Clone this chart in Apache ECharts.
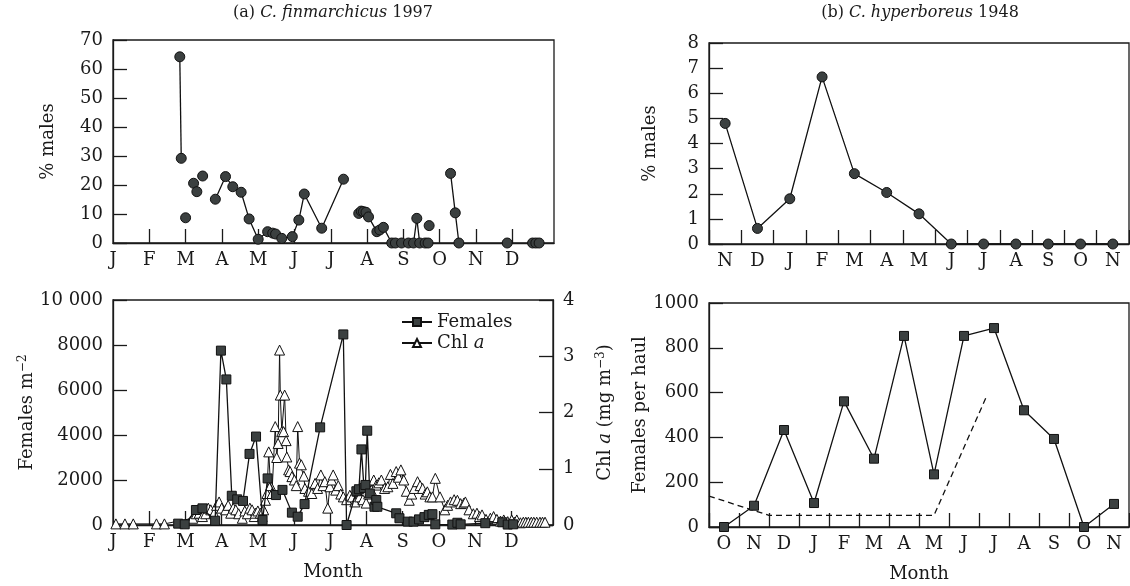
<!DOCTYPE html>
<html><head><meta charset="utf-8">
<script src="https://cdn.jsdelivr.net/npm/echarts@6/dist/echarts.min.js"></script>
<style>html,body{margin:0;padding:0;background:#fff}#c{width:1130px;height:586px}</style>
</head><body><div id="c"></div>
<script>
// ---- data ----
const monthLetters = ['J','F','M','A','M','J','J','A','S','O','N','D'];
// (a) C. finmarchicus 1997 — % males; x = months since 1 Jan; each inner list is a connected run
const malesFinSegments = [
  [[1.84,64.2],[1.88,29.2]],
  [[2.0,8.7]],
  [[2.22,20.6],[2.31,17.7]],
  [[2.47,23.1]],
  [[2.82,15.1],[3.10,22.9],[3.30,19.4],[3.53,17.5],[3.75,8.3],[4.0,1.3],[4.26,3.9],[4.40,3.4],[4.48,3.1],[4.65,1.6],[4.94,2.2],[5.12,7.9],[5.27,16.9],[5.75,5.1],[6.35,22.0]],
  [[6.77,10.2],[6.84,11.0],[6.90,10.8],[6.97,10.6],[7.04,9.0],[7.27,3.9],[7.35,4.5],[7.45,5.4],[7.68,0],[7.78,0],[7.95,0],[8.14,0],[8.28,0],[8.37,8.5],[8.45,0],[8.60,0],[8.68,0]],
  [[8.71,6.0]],
  [[9.30,24.0],[9.43,10.4],[9.53,0]],
  [[10.86,0]],
  [[11.56,0],[11.65,0],[11.74,0]]
];
// Females m^-2
const femalesFin = [[1.80,60],[1.98,30],[2.29,667],[2.47,740],[2.82,190],[2.98,7750],[3.13,6470],[3.28,1300],[3.43,1140],[3.59,1070],[3.77,3160],[3.95,3930],[4.13,220],[4.27,2070],[4.50,1330],[4.68,1560],[4.94,550],[5.10,370],[5.29,930],[5.72,4340],[6.36,8470],[6.45,0],[6.72,1500],[6.79,1590],[6.86,3360],[6.93,1650],[6.97,1780],[7.02,4190],[7.09,1400],[7.22,810],[7.27,1110],[7.30,810],[7.82,520],[7.91,300],[8.14,150],[8.30,150],[8.45,250],[8.60,350],[8.72,450],[8.82,480],[8.90,30],[9.37,20],[9.51,100],[9.60,30],[10.28,80],[10.75,120],[10.90,20],[11.05,30]];
// Chl a (mg m^-3)
const chlFin = [[0.08,0.02],[0.33,0.02],[0.56,0.02],[1.2,0.02],[1.42,0.02],
  [2.20,0.12],[2.30,0.2],[2.38,0.21],[2.47,0.15],[2.56,0.2],[2.63,0.3],[2.70,0.27],[2.79,0.21],[2.86,0.35],[2.93,0.41],[3.0,0.3],[3.11,0.27],[3.18,0.35],[3.25,0.21],[3.32,0.3],[3.39,0.27],[3.47,0.2],[3.57,0.12],[3.64,0.25],[3.71,0.2],[3.78,0.3],[3.84,0.27],[3.9,0.15],[3.93,0.21],[4.0,0.25],[4.07,0.21],[4.12,0.15],[4.16,0.27],[4.21,0.44],[4.25,0.56],[4.30,1.30],[4.35,0.7],[4.39,0.56],[4.48,1.75],[4.52,1.2],[4.56,1.45],[4.60,3.11],[4.62,2.31],[4.66,1.66],[4.71,1.66],[4.74,2.31],[4.78,1.5],[4.80,1.21],[4.85,0.98],[4.89,0.95],[4.94,0.86],[5.01,0.8],[5.06,0.7],[5.10,1.75],[5.15,1.1],[5.2,1.07],[5.27,0.87],[5.30,0.65],[5.4,0.6],[5.49,0.56],[5.58,0.74],[5.65,0.65],[5.74,0.89],[5.80,0.7],[5.85,0.77],[5.93,0.3],[5.99,0.68],[6.04,0.8],[6.08,0.89],[6.15,0.62],[6.22,0.7],[6.29,0.55],[6.36,0.5],[6.45,0.45],[6.54,0.53],[6.61,0.5],[6.68,0.41],[6.75,0.6],[6.81,0.5],[6.9,0.45],[6.99,0.39],[7.06,0.55],[7.13,0.62],[7.2,0.8],[7.27,0.71],[7.34,0.75],[7.41,0.8],[7.5,0.65],[7.59,0.68],[7.66,0.9],[7.73,0.74],[7.82,0.95],[7.88,0.85],[7.95,0.98],[8.03,0.8],[8.1,0.6],[8.18,0.44],[8.25,0.55],[8.32,0.65],[8.41,0.77],[8.48,0.7],[8.55,0.65],[8.62,0.55],[8.68,0.59],[8.75,0.5],[8.82,0.5],[8.9,0.83],[9.03,0.5],[9.16,0.27],[9.24,0.35],[9.32,0.41],[9.42,0.45],[9.51,0.44],[9.6,0.38],[9.69,0.39],[9.73,0.41],[9.83,0.27],[9.95,0.2],[10.05,0.21],[10.12,0.15],[10.19,0.18],[10.3,0.1],[10.42,0.12],[10.51,0.15],[10.6,0.1],[10.7,0.07],[10.79,0.09],[10.9,0.06],[11.01,0.09],[11.08,0.05],[11.15,0.09],[11.25,0.04],[11.33,0.05],[11.4,0.05],[11.47,0.05],[11.55,0.05],[11.62,0.05],[11.7,0.05],[11.79,0.05],[11.86,0.05],[11.93,0.05]];
// (b) C. hyperboreus 1948
const hypMonths = ['N','D','J','F','M','A','M','J','J','A','S','O','N'];
const malesHyp = [4.8,0.62,1.8,6.65,2.8,2.05,1.2,0,0,0,0,0,0];
const haulMonths = ['O','N','D','J','F','M','A','M','J','J','A','S','O','N'];
const femalesHaul = [0,95,433,107,561,305,853,235,853,888,521,393,0,103];
// dashed line: x in month-slot units (0 = first O)
const dashedHaul = [[-0.5,138],[1.5,52],[7,52],[8.75,583]];

// ---- styling ----
const F = 'DejaVu Serif';
const ink = '#1a1a1a';
const xTickColor = ink;
const fill = '#3b4040';
function lab(extra) { return Object.assign({fontFamily: F, fontSize: 18, color: ink}, extra || {}); }
function tickIn(extra, color) { return Object.assign({show: true, inside: true, length: 14, lineStyle: {color: color || ink, width: 1.3}}, extra || {}); }
function axLine() { return {show: true, onZero: false, lineStyle: {color: ink, width: 1.3}}; }
function gridBase(o) { return Object.assign({show: true, borderColor: ink, borderWidth: 1.3, backgroundColor: 'transparent'}, o); }
function nameStyle(extra) { return Object.assign({fontFamily: F, fontSize: 18, color: ink}, extra || {}); }

function monthAxis(gi, extra) {
  return Object.assign({
    type: 'value', gridIndex: gi, min: 0, max: 12.15,
    axisLine: axLine(),
    axisTick: tickIn({customValues: [1,2,3,4,5,6,7,8,9,10,11]}, xTickColor),
    axisLabel: lab({margin: 8, customValues: [0,1,2,3,4,5,6,7,8,9,10,11],
      formatter: v => monthLetters[Math.round(v)]}),
    splitLine: {show: false}
  }, extra || {});
}
function valAxis(gi, min, max, interval, extra) {
  return Object.assign({
    type: 'value', gridIndex: gi, min, max, interval,
    axisLine: axLine(),
    axisTick: tickIn(),
    axisLabel: lab({margin: 10, formatter: v => String(v)}),
    splitLine: {show: false}
  }, extra || {});
}
function catAxis(gi, cats, extra) {
  return Object.assign({
    type: 'category', gridIndex: gi, data: cats, boundaryGap: true,
    axisLine: axLine(),
    axisTick: tickIn({interval: 0}, xTickColor),
    axisLabel: lab({margin: 8, interval: 0}),
    splitLine: {show: false}
  }, extra || {});
}

const lineSt = () => ({color: '#111', width: 1.3});
const darkItem = () => ({color: fill, borderColor: '#111', borderWidth: 1});

const series = [];
malesFinSegments.forEach(seg => {
  series.push({type: 'line', xAxisIndex: 0, yAxisIndex: 0, data: seg,
    symbol: 'circle', symbolSize: 10, showAllSymbol: true,
    itemStyle: darkItem(), lineStyle: lineSt(), z: 3});
});
series.push({name: 'Females', type: 'line', xAxisIndex: 1, yAxisIndex: 1, data: femalesFin,
  symbol: 'rect', symbolSize: 9, showAllSymbol: true,
  itemStyle: darkItem(), lineStyle: lineSt(), z: 4});
series.push({name: 'Chl a', type: 'line', xAxisIndex: 1, yAxisIndex: 2, data: chlFin,
  symbol: 'triangle', symbolSize: 10, showAllSymbol: true,
  itemStyle: {color: '#fff', borderColor: '#111', borderWidth: 1}, lineStyle: {color: '#111', width: 1}, z: 3});
series.push({type: 'line', xAxisIndex: 2, yAxisIndex: 3, data: malesHyp,
  symbol: 'circle', symbolSize: 10, showAllSymbol: true,
  itemStyle: darkItem(), lineStyle: lineSt(), z: 3});
series.push({type: 'line', xAxisIndex: 3, yAxisIndex: 4, data: femalesHaul,
  symbol: 'rect', symbolSize: 9, showAllSymbol: true,
  itemStyle: darkItem(), lineStyle: lineSt(), z: 3});
series.push({type: 'line', xAxisIndex: 4, yAxisIndex: 4, data: dashedHaul,
  symbol: 'none', lineStyle: {color: '#111', width: 1.3, type: [6, 4]}, z: 2});

const option = {
  animation: false,
  backgroundColor: '#fff',
  textStyle: {fontFamily: F},
  graphic: [
    {type: 'text', x: 333, y: 5, style: {text: '(a) {i|C. finmarchicus} 1997', align: 'center',
      fontFamily: F, fontSize: 16, fill: ink, rich: {i: {fontStyle: 'italic', fontFamily: F, fontSize: 16, fill: ink}}}},
    {type: 'text', x: 920, y: 5, style: {text: '(b) {i|C. hyperboreus} 1948', align: 'center',
      fontFamily: F, fontSize: 16, fill: ink, rich: {i: {fontStyle: 'italic', fontFamily: F, fontSize: 16, fill: ink}}}}
  ],
  legend: {
    data: ['Females', 'Chl a'], orient: 'vertical', left: 396, top: 308,
    itemWidth: 30, itemHeight: 10, itemGap: 3,
    formatter: n => n === 'Chl a' ? 'Chl {i|a}' : n,
    textStyle: {fontFamily: F, fontSize: 18, color: ink,
      rich: {i: {fontStyle: 'italic', fontFamily: F, fontSize: 18, color: ink}}}
  },
  grid: [
    gridBase({left: 113, top: 40, width: 441, height: 203}),
    gridBase({left: 113, top: 300, width: 440, height: 225}),
    gridBase({left: 709, top: 43, width: 420, height: 201}),
    gridBase({left: 709, top: 303, width: 420, height: 224})
  ],
  xAxis: [
    monthAxis(0),
    monthAxis(1, {name: 'Month', nameLocation: 'middle', nameGap: 38, nameTextStyle: nameStyle()}),
    catAxis(2, hypMonths),
    catAxis(3, haulMonths, {name: 'Month', nameLocation: 'middle', nameGap: 38, nameTextStyle: nameStyle()}),
    {type: 'value', gridIndex: 3, min: -0.5, max: 13.5, show: false}
  ],
  yAxis: [
    valAxis(0, 0, 70, 10, {name: '% males', nameLocation: 'middle', nameGap: 56, nameTextStyle: nameStyle()}),
    valAxis(1, 0, 10000, 2000, {name: 'Females m{s|−2}', nameLocation: 'middle', nameGap: 74,
      nameTextStyle: nameStyle({rich: {s: {fontFamily: F, fontSize: 12, color: ink, padding: [0,0,8,0]}}}),
      axisLabel: lab({margin: 10, formatter: v => v === 10000 ? '10 000' : String(v)})}),
    valAxis(1, 0, 4, 1, {position: 'right', name: 'Chl {i|a} (mg m{s|−3})', nameLocation: 'middle', nameGap: 42,
      nameTextStyle: nameStyle({rich: {i: {fontStyle: 'italic', fontFamily: F, fontSize: 18, color: ink},
        s: {fontFamily: F, fontSize: 12, color: ink, padding: [0,0,8,0]}}})}),
    valAxis(2, 0, 8, 1, {name: '% males', nameLocation: 'middle', nameGap: 50, nameTextStyle: nameStyle()}),
    valAxis(3, 0, 1000, 200, {name: 'Females per haul', nameLocation: 'middle', nameGap: 54, nameTextStyle: nameStyle()})
  ],
  series
};
const chart = echarts.init(document.getElementById('c'), null, {renderer: 'canvas'});
chart.setOption(option);
</script>
</body></html>
